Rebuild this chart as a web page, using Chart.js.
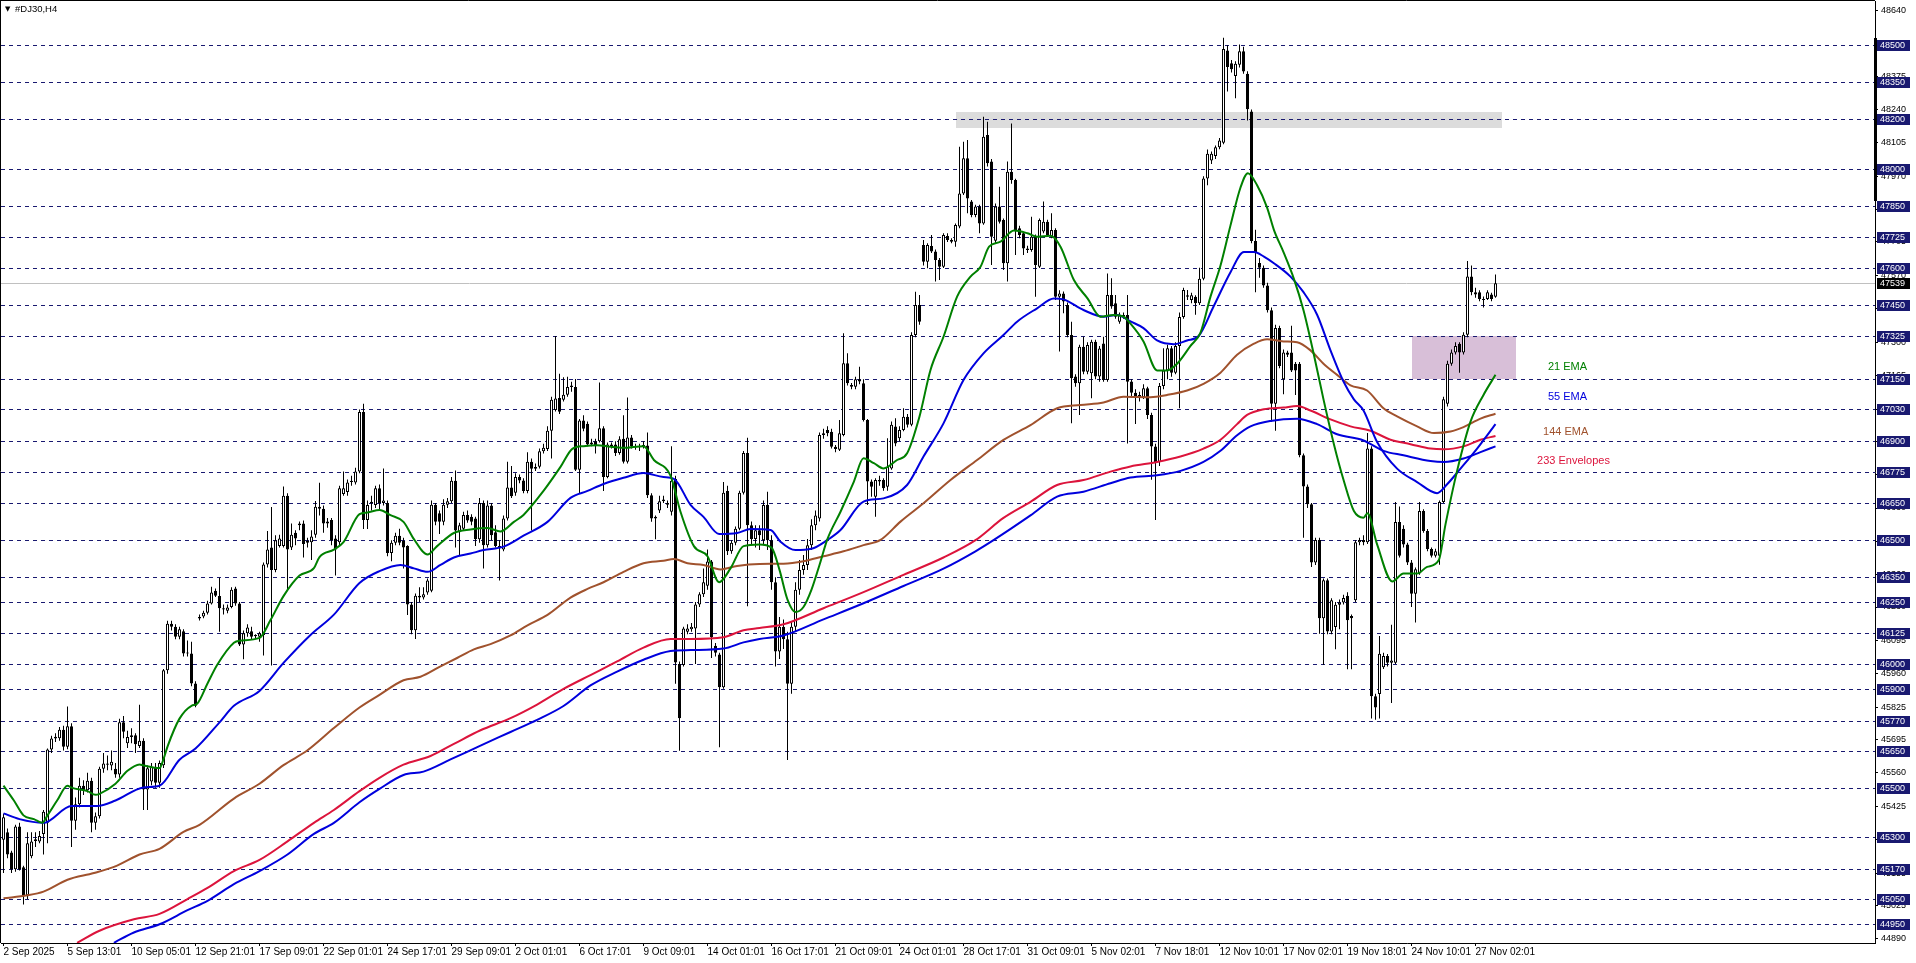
<!DOCTYPE html>
<html><head><meta charset="utf-8">
<script src="https://cdn.jsdelivr.net/npm/chart.js@4.4.1/dist/chart.umd.min.js"></script>
<style>html,body{margin:0;padding:0;background:#fff;overflow:hidden}#wrap{width:1916px;height:963px}</style>
</head><body><div id="wrap"><canvas id="c" width="1916" height="963"></canvas></div>
<script>
const symbolTitle = '#DJ30,H4';
const timeTickLabels = ['2 Sep 2025','5 Sep 13:01','10 Sep 05:01','12 Sep 21:01','17 Sep 09:01','22 Sep 01:01','24 Sep 17:01','29 Sep 09:01','2 Oct 01:01','6 Oct 17:01','9 Oct 09:01','14 Oct 01:01','16 Oct 17:01','21 Oct 09:01','24 Oct 01:01','28 Oct 17:01','31 Oct 09:01','5 Nov 02:01','7 Nov 18:01','12 Nov 10:01','17 Nov 02:01','19 Nov 18:01','24 Nov 10:01','27 Nov 02:01'];
const timeTickBars = [0,16,32,48,64,80,96,112,128,144,160,176,192,208,224,240,256,272,288,304,320,336,352,368];
const priceTicks = [48640,48505,48375,48240,48105,47970,47835,47705,47570,47435,47300,47165,47030,46900,46765,46630,46495,46360,46230,46095,45960,45825,45695,45560,45425,45290,45155,45025,44890];
const levelPrices = [48500,48350,48200,48000,47850,47725,47600,47450,47325,47150,47030,46900,46775,46650,46500,46350,46250,46125,46000,45900,45770,45650,45500,45300,45170,45050,44950];
const lastPrice = 47539;
const zoneBarFrom = [238, 352];
const zoneBarTo = [374.5, 378];
const zoneTop = [48230, 47325];
const zoneBottom = [48166, 47150];
const noteTexts = ['21 EMA','55 EMA','144 EMA','233 Envelopes'];
const noteBars = [386.1, 386.1, 384.9, 383.4];
const notePrices = [47198, 47077, 46937, 46820];
const axisMarkPrices = [48529, 47870];

const openP = [
45290,45320,45238,45170,45343,45178,45065,45223,45285,45283,
45313,45358,45654,45699,45700,45734,45665,45748,45366,45433,
45508,45490,45528,45358,45385,45576,45598,45590,45576,45553,
45764,45680,45705,45712,45668,45690,45493,45525,45585,45520,
45591,45974,46162,46150,46110,46132,46042,46042,45921,46184,
46192,46207,46244,46296,46274,46225,46215,46230,46305,46244,
46079,46124,46132,46117,46110,46117,46402,46470,46380,46477,
46477,46680,46470,46530,46560,46567,46497,46492,46522,46635,
46627,46575,46582,46507,46492,46687,46695,46735,46733,46778,
47018,46582,46655,46642,46710,46650,46650,46448,46490,46518,
46497,46476,46240,46136,46275,46268,46289,46296,46643,46609,
46574,46643,46657,46740,46532,46546,46602,46595,46588,46504,
46650,46480,46640,46532,46476,46462,46588,46713,46692,46755,
46741,46699,46817,46789,46797,46859,46868,46942,47026,47074,
47067,47088,47119,47119,46785,46984,46970,46887,46900,46900,
46952,46755,46887,46887,46852,46910,46817,46915,46880,46875,
46880,46883,46682,46595,46620,46657,46650,46615,46747,46000,
45996,46130,46140,46143,46240,46282,46316,46414,46073,46038,
45906,46699,46455,46490,46546,46692,46852,46560,46505,46540,
46500,46642,46500,46330,46050,46150,46100,45920,46150,46300,
46380,46400,46480,46560,46588,46925,46945,46938,46878,46865,
46925,47215,47127,47120,47150,47134,46986,46737,46676,46743,
46743,46716,46790,46959,46912,46945,46999,46966,47329,47450,
47693,47625,47689,47666,47632,47605,47729,47713,47706,47767,
47901,48043,47868,47814,47848,47780,48137,48030,47710,47848,
47794,47619,47989,47955,47760,47740,47679,47673,47726,47605,
47747,47787,47726,47753,47484,47497,47450,47329,47161,47134,
47282,47181,47174,47302,47161,47295,47147,47491,47457,47383,
47403,47410,47141,47096,47078,47078,47114,47006,46879,46816,
47123,47186,47276,47177,47285,47402,47490,47470,47484,47457,
47556,47961,48034,48052,48088,48106,48479,48427,48376,48421,
48476,48385,48232,47709,47620,47601,47529,47429,47051,47357,
47150,47258,47258,47213,47213,46843,46717,46645,46410,46501,
46185,46338,46131,46149,46239,46248,46275,46194,46257,46492,
46501,46492,46870,45869,45878,45987,46032,46005,46005,46573,
46546,46483,46410,46284,46365,46618,46537,46464,46437,46437,
46654,47051,47213,47258,47294,47258,47330,47565,47502,47502,
47475,47475,47493,47484];
const highP = [
45395,45335,45245,45350,45358,45185,45320,45320,45320,45325,
45410,45658,45710,45720,45745,45750,45828,45760,45460,45540,
45530,45560,45540,45400,45585,45640,45630,45650,45600,45778,
45790,45730,45740,45720,45835,45700,45590,45600,45600,45610,
45980,46174,46174,46160,46150,46140,46095,46090,45930,46200,
46215,46255,46312,46305,46348,46240,46240,46310,46312,46250,
46135,46160,46150,46120,46130,46410,46537,46634,46520,46522,
46717,46690,46567,46540,46575,46580,46510,46540,46658,46732,
46640,46590,46590,46520,46720,46778,46745,46760,46793,47028,
47051,46660,46680,46720,46725,46790,46660,46500,46530,46546,
46510,46480,46250,46285,46310,46310,46345,46660,46650,46620,
46665,46670,46755,46782,46570,46615,46620,46605,46595,46670,
46660,46660,46650,46560,46500,46600,46817,46800,46770,46765,
46750,46855,46830,46810,46870,46890,46960,47080,47325,47172,
47158,47160,47140,47151,46990,47005,46980,46910,46910,47137,
46960,46895,46895,46900,46920,47005,47077,46925,46890,46890,
46900,46935,46690,46600,46680,46680,46660,46880,46760,46010,
46150,46160,46165,46250,46290,46386,46462,46420,46085,46045,
46735,46720,46500,46555,46700,46860,46914,46575,46560,46560,
46660,46696,46520,46350,46190,46180,46130,46170,46330,46420,
46440,46505,46585,46620,46935,46950,46960,46950,46885,46986,
47336,47255,47135,47160,47201,47150,46990,46745,46750,46760,
46750,46912,46980,46993,46960,47033,47010,47340,47504,47491,
47713,47700,47733,47675,47640,47740,47740,47720,47780,48090,
48110,48117,47875,47855,47855,48211,48191,48040,47860,47928,
47800,48030,48184,47960,47770,47745,47690,47807,47735,47800,
47868,47795,47821,47760,47510,47505,47460,47383,47170,47290,
47322,47300,47310,47310,47285,47322,47578,47558,47491,47420,
47420,47491,47150,47110,47100,47130,47120,47015,46890,47135,
47276,47290,47285,47300,47420,47520,47511,47500,47490,47601,
47970,48079,48070,48095,48125,48530,48500,48440,48435,48503,
48494,48395,48240,47754,47640,47610,47540,47440,47370,47366,
47270,47265,47366,47220,47220,46850,46725,46650,46510,46510,
46345,46345,46265,46250,46260,46280,46290,46200,46500,46510,
46520,46933,46880,45880,46113,46045,46040,46158,46654,46636,
46560,46490,46420,46390,46654,46625,46545,46470,46465,46660,
47080,47225,47270,47300,47300,47340,47628,47610,47520,47510,
47485,47510,47500,47574];
const lowP = [
45155,45215,45155,45160,45165,45028,45050,45215,45260,45275,
45230,45275,45640,45685,45690,45650,45655,45260,45330,45420,
45470,45480,45320,45330,45375,45560,45570,45570,45540,45540,
45700,45660,45680,45640,45660,45410,45410,45510,45500,45500,
45580,45960,46135,46100,46100,46030,46030,45910,45825,46175,
46185,46200,46240,46270,46130,46200,46205,46225,46235,46072,
46019,46110,46100,46100,46090,46034,46390,45994,46370,46470,
46470,46297,46460,46480,46540,46430,46470,46420,46510,46600,
46530,46550,46480,46357,46480,46680,46680,46720,46725,46770,
46545,46545,46620,46630,46620,46640,46435,46415,46480,46480,
46386,46198,46120,46101,46250,46260,46280,46290,46560,46525,
46560,46630,46650,46470,46440,46540,46570,46560,46476,46490,
46386,46470,46500,46470,46337,46455,46580,46670,46680,46730,
46690,46690,46539,46780,46790,46850,46860,46830,47020,47010,
47060,47080,47100,46780,46690,46940,46880,46880,46850,46895,
46699,46750,46870,46840,46845,46810,46810,46870,46865,46860,
46870,46670,46574,46504,46610,46650,46630,46600,45920,45649,
45990,46120,46130,46000,46230,46270,46300,46024,46030,45663,
45900,46440,46445,46480,46540,46685,46233,46480,46470,46460,
46480,46460,46300,45990,46020,46060,45612,45880,46130,46280,
46360,46380,46460,46540,46575,46910,46920,46870,46855,46860,
46920,47125,47110,47110,47130,46980,46642,46676,46595,46720,
46700,46700,46785,46880,46900,46940,46955,46960,47320,47370,
47610,47599,47660,47545,47551,47600,47705,47700,47686,47760,
47895,47821,47805,47805,47740,47775,48010,47612,47700,47780,
47592,47545,47940,47652,47720,47652,47660,47665,47484,47600,
47740,47725,47720,47470,47262,47417,47320,46972,47120,47006,
47170,47170,47073,47150,47140,47140,47140,47435,47395,47375,
47395,46891,47080,46969,47060,47070,46990,46744,46582,46800,
47110,47150,47160,47170,47033,47395,47470,47457,47411,47450,
47550,47934,48020,48040,48080,48100,48313,48390,48286,48410,
48385,48196,47700,47502,47560,47520,47420,46979,46942,47195,
47090,47240,47180,47087,46835,46510,46630,46392,46400,46122,
45996,46120,46120,46059,46140,46240,45978,45978,46250,46480,
46480,46485,45779,45774,45779,45980,45990,45842,46000,46430,
46470,46400,46230,46167,46360,46530,46455,46430,46430,46401,
46650,47040,47205,47250,47177,47250,47320,47490,47480,47465,
47440,47470,47465,47480];
const closeP = [
45380,45230,45170,45343,45170,45065,45275,45283,45292,45305,
45403,45654,45699,45706,45734,45665,45748,45366,45433,45508,
45490,45528,45358,45385,45576,45598,45593,45605,45553,45764,
45726,45705,45712,45675,45690,45493,45578,45585,45520,45600,
45974,46162,46150,46110,46140,46042,46046,45921,45831,46190,
46207,46244,46289,46275,46225,46220,46228,46300,46244,46079,
46124,46147,46110,46112,46124,46402,46462,46380,46500,46507,
46680,46462,46522,46507,46567,46485,46490,46515,46635,46627,
46567,46567,46500,46462,46710,46710,46733,46740,46778,47018,
46582,46642,46650,46710,46650,46660,46448,46490,46518,46490,
46470,46240,46136,46275,46268,46282,46337,46643,46574,46574,
46643,46657,46740,46539,46560,46602,46580,46574,46504,46650,
46480,46640,46520,46476,46470,46588,46713,46678,46755,46741,
46699,46817,46789,46796,46859,46873,46942,47067,47072,47019,
47088,47119,47125,46785,46984,46950,46887,46895,46880,46952,
46755,46887,46880,46852,46908,46817,46915,46880,46875,46880,
46885,46682,46588,46588,46657,46664,46643,46740,46006,45781,
46143,46143,46150,46240,46282,46330,46414,46108,46045,45906,
46692,46455,46490,46546,46692,46852,46560,46505,46540,46520,
46642,46500,46330,46050,46150,46100,45920,46150,46300,46380,
46400,46480,46560,46600,46925,46932,46932,46878,46868,46932,
47215,47134,47120,47150,47141,46986,46737,46716,46743,46737,
46710,46797,46966,46891,46945,46999,46966,47329,47450,47383,
47625,47693,47666,47632,47605,47733,47713,47706,47774,47901,
48043,47881,47814,47848,47780,48130,48023,47726,47848,47787,
47619,47989,47955,47753,47733,47679,47673,47726,47612,47794,
47787,47733,47753,47484,47497,47464,47329,47154,47134,47282,
47181,47289,47302,47161,47275,47147,47491,47444,47403,47410,
47410,47140,47096,47078,47087,47114,47006,46879,46816,47123,
47186,47276,47177,47285,47402,47511,47484,47490,47457,47556,
47961,48061,48061,48088,48115,48485,48412,48403,48425,48476,
48394,48241,47709,47664,47601,47529,47429,47051,47357,47204,
47258,47249,47186,47186,46843,46717,46645,46410,46501,46185,
46338,46131,46257,46239,46248,46266,46176,46185,46492,46501,
46492,46870,45869,45824,46041,46032,46005,46014,46573,46437,
46483,46410,46284,46383,46618,46537,46464,46437,46455,46654,
47069,47213,47258,47285,47258,47330,47565,47502,47493,47475,
47470,47502,47475,47538];

const ema21Bars = [0,2.6,5,7.6,9.7,11,13.4,16,17,21,23,24,28,31,34,35,39,40,41,44,47,48.4,51,53.4,57.6,59,64,66.75,70,74,77.6,79,82.6,85,89,91,94,96.75,100,102.6,106,108.4,112.6,116.75,121,124.25,127.6,130,135,139.25,142.2,145,148.4,151.75,155,160,162.6,166.75,169.25,172.6,176,178.9,181.75,185,189,192,194,196,198,200,202,204,206,209.25,212.6,215,217.6,220,223.4,225.9,229,231.75,235,238.4,241.75,244.25,246.4,249.25,252.6,256,258.4,261.75,264.25,267.6,271,274.25,277.6,280,281.75,285,288.4,290.9,293.4,296.75,299.25,301.75,304.25,306.75,309.25,311.1,313.4,315.9,317.6,320,322.6,325,327.6,330,332.6,335,337.6,340,341,343.4,347.2,350,353.4,355.9,358.8,360.5,363.4,366.75,370,373];
const ema21Vals = [45508,45448,45388,45373,45358,45388,45448,45508,45500,45486,45471,45475,45516,45568,45594,45590,45579,45615,45666,45779,45831,45839,45921,45996,46086,46094,46105,46177,46274,46357,46387,46432,46462,46492,46605,46612,46622,46601,46574,46504,46442,46476,46529,46543,46549,46535,46574,46602,46699,46796,46869,46880,46884,46877,46873,46880,46824,46761,46615,46476,46435,46330,46386,46476,46483,46470,46380,46260,46210,46230,46300,46400,46505,46615,46737,46831,46811,46790,46824,46851,47000,47188,47322,47484,47565,47605,47686,47706,47751,47740,47726,47730,47686,47551,47477,47403,47410,47403,47375,47303,47186,47186,47213,47285,47339,47484,47610,47772,47925,47983,47934,47844,47754,47664,47556,47429,47249,47069,46888,46744,46618,46591,46609,46483,46333,46365,46365,46392,46419,46564,46780,46979,47087,47168];
const ema55Bars = [0,4,10,17,23.4,28,35,39,44,48,54,57.6,64,70,76.75,82.6,89,94,99.25,102.6,106,109.25,112.6,116.75,120,125,130,136,141.75,146,150,155,160,165,167.6,171.75,175,178.9,183.4,186.75,191.75,194.25,198,202,206,209.25,215,220,225.9,230,235,240,245,250,253.4,258.4,262.6,265,270,275,278.4,281.75,285,288.4,292.6,295.9,298.8,302.6,306.75,310.1,312.6,315.1,317.6,321.75,325,328.4,331.75,335,337.6,340,343.4,348.4,353.4,358.4,360.9,364.25,368.4,373];
const ema55Vals = [45396,45373,45358,45426,45426,45448,45501,45508,45613,45658,45764,45831,45891,46004,46117,46199,46327,46375,46400,46386,46372,46400,46430,46446,46460,46474,46518,46574,46671,46699,46727,46752,46771,46755,46748,46643,46594,46525,46529,46545,46541,46494,46460,46465,46501,46541,46656,46669,46723,46838,46972,47147,47255,47329,47383,47437,47477,47473,47430,47403,47410,47384,47357,47307,47292,47307,47325,47447,47583,47664,47664,47646,47619,47565,47502,47411,47267,47141,47069,47024,46897,46789,46735,46690,46726,46789,46870,46969];
const ema144Bars = [0,6,10,16,22.6,28.4,34,39,45,49,57.6,64,70,76,82.6,89,94,100,104.25,109.25,113.4,117.6,121.75,126.75,131,136,141.75,146,150,155,160,165,167.6,171,175,179.25,183.4,189,195,200,205,210,215,219.25,224.25,230,236.75,243.4,250,256.75,263.4,269.25,275,280,286.75,290.9,295.9,300,304.25,308.4,312.6,315.9,320,323.4,326.75,330,333.4,336.75,340.9,345,348.4,353.4,357.6,361.75,365,369.25,373];
const ema144Vals = [45053,45065,45080,45128,45155,45185,45230,45253,45321,45350,45456,45516,45591,45651,45741,45824,45875,45934,45948,45990,46024,46059,46080,46115,46156,46198,46268,46303,46330,46372,46407,46417,46424,46407,46400,46382,46396,46404,46405,46415,46435,46455,46480,46501,46575,46649,46743,46824,46905,46965,47033,47046,47056,47080,47078,47087,47105,47132,47177,47249,47294,47312,47303,47300,47267,47213,47168,47126,47105,47033,47000,46960,46933,46939,46957,46991,47011];
const envUpBars = [18.4,24,32.6,39,46,51,57.6,64,71,77.6,82.6,89,94,100,106.75,112.6,119.25,126.75,133.4,140,146.75,153.4,160,166.75,171.75,180,185,189,195,205,215,225,235,243,250,256.75,263.4,270,276.75,281.75,288.4,294.25,300,304.25,308.4,310.9,315.1,320,323.4,326.75,331.75,336.75,341.75,346.75,351.75,356.75,360.1,365,369.25,373];
const envUpVals = [44873,44922,44968,44990,45050,45095,45163,45208,45283,45358,45410,45486,45540,45593,45628,45677,45732,45781,45836,45899,45955,46010,46066,46101,46101,46108,46136,46145,46160,46225,46290,46360,46430,46500,46590,46655,46723,46743,46777,46798,46816,46838,46870,46906,46969,47006,47029,47036,47042,47024,46988,46960,46942,46906,46888,46870,46867,46879,46906,46921];
const envLoBars = [27.6,32.6,39,46,51,57.6,64,71,77.6,82.6,89,94,100,105,111.75,119.25,126.75,133.4,140,146.75,153.4,160,166.75,171.75,180,185,189,195,205,215,225,235,243,247.6,256.75,263.4,270,276.75,281.75,288.4,294.25,300,304.25,308.4,311.75,316.75,323.4,328.4,333.4,340,345,350,356.75,360.1,365,369.25,373];
const envLoVals = [44873,44915,44948,45005,45043,45110,45163,45230,45313,45358,45441,45495,45551,45565,45614,45670,45725,45774,45830,45913,45969,46017,46052,46056,46062,46087,46101,46115,46180,46245,46315,46385,46455,46501,46600,46676,46696,46730,46753,46762,46780,46816,46861,46924,46960,46982,46991,46969,46928,46903,46861,46843,46820,46816,46830,46856,46879];

const X_MIN = -0.625, X_MAX = 467.875, Y_MIN = 44872.4, Y_MAX = 48678.6;
const FONT = '"Liberation Sans", Arial, sans-serif';
const C_GREEN = '#008000', C_BLUE = '#0000dd', C_BROWN = '#a0522d', C_RED = '#dc143c', C_NAVY = '#191970';
const noteColors = [C_GREEN, C_BLUE, C_BROWN, C_RED];
const zoneColors = ['#dcdcdc', '#d8bfd8'];

const bodies = openP.map((o, i) => ({x: i, y: [o, closeP[i]]}));
const wicks = openP.map((o, i) => ({x: i, y: [Math.min(lowP[i], o, closeP[i]), Math.max(highP[i], o, closeP[i])]}));
const bodyFill = openP.map((o, i) => closeP[i] >= o ? '#ffffff' : '#000000');
const pts = (b, v) => b.map((x, i) => ({x, y: v[i]}));
const lineDs = (label, b, v, color) => ({type: 'line', label, data: pts(b, v), borderColor: color, borderWidth: 2, pointRadius: 0, cubicInterpolationMode: 'monotone', fill: false, order: 0});

const overlay = {
  id: 'overlay',
  beforeDatasetsDraw(chart) {
    const {ctx, chartArea: a, scales: {x, y}} = chart;
    ctx.save();
    ctx.beginPath(); ctx.rect(a.left, a.top, a.right - a.left, a.bottom - a.top); ctx.clip();
    for (let k = 0; k < zoneBarFrom.length; k++) {
      const x1 = Math.round(x.getPixelForValue(zoneBarFrom[k])), x2 = Math.round(x.getPixelForValue(zoneBarTo[k]));
      const y1 = Math.round(y.getPixelForValue(zoneTop[k])), y2 = Math.round(y.getPixelForValue(zoneBottom[k]));
      ctx.fillStyle = zoneColors[k];
      ctx.fillRect(x1, y1, x2 - x1, y2 - y1);
    }
    ctx.lineWidth = 1;
    ctx.strokeStyle = C_NAVY;
    ctx.setLineDash([4, 4]);
    for (const p of levelPrices) {
      const yy = Math.round(y.getPixelForValue(p)) + 0.5;
      ctx.beginPath(); ctx.moveTo(a.left, yy); ctx.lineTo(a.right, yy); ctx.stroke();
    }
    ctx.setLineDash([]);
    ctx.strokeStyle = '#c0c0c0';
    const yb = Math.round(y.getPixelForValue(lastPrice)) + 0.5;
    ctx.beginPath(); ctx.moveTo(a.left, yb); ctx.lineTo(a.right, yb); ctx.stroke();
    ctx.restore();
  },
  afterDraw(chart) {
    const {ctx, chartArea: a, scales: {x, y}} = chart;
    ctx.save();
    ctx.textBaseline = 'middle';
    ctx.textAlign = 'left';
    ctx.font = '11px ' + FONT;
    for (let k = 0; k < noteTexts.length; k++) {
      ctx.fillStyle = noteColors[k];
      ctx.fillText(noteTexts[k], x.getPixelForValue(noteBars[k]), y.getPixelForValue(notePrices[k]));
    }
    ctx.font = '9px ' + FONT;
    const box = (p, bg) => {
      const yy = Math.round(y.getPixelForValue(p));
      ctx.fillStyle = bg; ctx.fillRect(a.right + 2, yy - 5, 33, 11);
      ctx.fillStyle = '#ffffff'; ctx.fillText(String(p), a.right + 5, yy + 0.5);
    };
    levelPrices.forEach(p => box(p, C_NAVY));
    box(lastPrice, '#000000');
    const m1 = Math.round(y.getPixelForValue(axisMarkPrices[0])), m2 = Math.round(y.getPixelForValue(axisMarkPrices[1]));
    ctx.fillStyle = '#000'; ctx.fillRect(Math.round(a.right) - 1, m1, 3, m2 - m1);
    ctx.strokeStyle = '#000'; ctx.lineWidth = 1;
    ctx.beginPath(); ctx.moveTo(0, a.top - 0.5); ctx.lineTo(a.right, a.top - 0.5); ctx.stroke();
    ctx.beginPath(); ctx.moveTo(a.left - 0.5, 0); ctx.lineTo(a.left - 0.5, a.bottom); ctx.stroke();
    ctx.fillStyle = '#000';
    ctx.font = '7px "DejaVu Sans", sans-serif';
    ctx.fillText('\u25BC', 5, 9.5);
    ctx.font = '9.5px ' + FONT;
    ctx.fillText(symbolTitle, 15, 9.5);
    ctx.restore();
  }
};

new Chart(document.getElementById('c'), {
  type: 'bar',
  data: {
    datasets: [
      lineDs('21 EMA', ema21Bars, ema21Vals, C_GREEN),
      lineDs('55 EMA', ema55Bars, ema55Vals, C_BLUE),
      lineDs('144 EMA', ema144Bars, ema144Vals, C_BROWN),
      lineDs('233 Envelopes upper', envUpBars, envUpVals, C_RED),
      lineDs('233 Envelopes lower', envLoBars, envLoVals, C_BLUE),
      {type: 'bar', label: 'body', data: bodies, backgroundColor: bodyFill, borderColor: '#000', borderWidth: 1, borderSkipped: false, barThickness: 3, grouped: false, inflateAmount: 0, order: 5},
      {type: 'bar', label: 'wick', data: wicks, backgroundColor: '#000', borderWidth: 0, barThickness: 1, grouped: false, inflateAmount: 0, order: 6}
    ]
  },
  options: {
    responsive: false,
    animation: false,
    devicePixelRatio: 1,
    layout: {padding: {left: 1, top: 1, right: 0, bottom: 0}},
    plugins: {legend: {display: false}, tooltip: {enabled: false}},
    scales: {
      x: {
        type: 'linear', min: X_MIN, max: X_MAX, offset: false, bounds: 'data',
        afterBuildTicks: s => { s.ticks = timeTickBars.map(v => ({value: v})); },
        afterFit: s => { s.height = 20; s.paddingLeft = 0; s.paddingRight = 0; },
        ticks: {callback: (v, i) => timeTickLabels[i], align: 'start', font: {family: FONT, size: 10}, color: '#000', padding: 0, autoSkip: false, maxRotation: 0, minRotation: 0},
        grid: {drawOnChartArea: false, tickLength: 3, color: '#000', offset: false},
        border: {color: '#000'}
      },
      y: {
        type: 'linear', position: 'right', min: Y_MIN, max: Y_MAX, bounds: 'data',
        afterBuildTicks: s => { s.ticks = priceTicks.map(v => ({value: v})); },
        afterFit: s => { s.width = 41; s.paddingTop = 0; s.paddingBottom = 0; },
        ticks: {callback: v => String(v), font: {family: FONT, size: 9}, color: '#000', padding: 3, autoSkip: false},
        grid: {drawOnChartArea: false, tickLength: 3, color: '#000'},
        border: {color: '#000'}
      }
    }
  },
  plugins: [overlay]
});
</script>
</body></html>
